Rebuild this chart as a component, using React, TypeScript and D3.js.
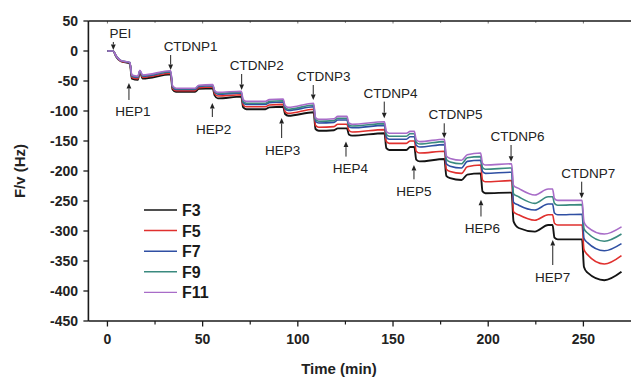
import React from "react";
import * as d3 from "d3";

// ---- data ----
const seriesNames = ["F3", "F5", "F7", "F9", "F11"];
const seriesColors = ["#141414", "#e0302e", "#2f4fa3", "#3a8a7f", "#a86cc8"];

const times = [
  0, 3, 4.5, 7, 11.8, 12.8, 16, 17, 18.5, 33.2,
  34.2, 36, 46, 48, 55.3, 56.3, 58, 70.3, 71.3, 73,
  83, 85, 92.3, 93.3, 95, 108.3, 109.3, 111, 119, 121,
  125.8, 126.8, 128.5, 145.5, 146.5, 148, 157, 159, 161.2, 162.2,
  164, 177, 178, 180, 186, 189, 196, 197, 198.5, 212.3,
  213.3, 216, 224.5, 231.5, 233.8, 234.8, 236.5, 249.3, 250.3, 252,
  261, 270,
];

const f11 = [
  0, 0, -8, -16, -19, -40, -42, -32, -40, -33,
  -58, -62, -62, -57, -56, -66, -69, -67, -81, -84,
  -84, -81, -80, -91, -94, -87, -111, -114, -113, -109,
  -109, -120, -122, -118, -134, -137, -137, -134, -134, -148,
  -151, -147, -175, -179, -182, -173, -170, -187, -190, -188,
  -224, -229, -240, -230, -230, -246, -249, -249, -285, -293,
  -305, -293,
];
const f9 = [
  0, 0, -8, -16, -19, -41, -43, -33, -41, -34,
  -59, -63, -63, -58, -57, -67, -70.5, -68.5, -84, -87,
  -87, -84, -83, -94, -97, -90, -114, -117, -116, -112,
  -112, -123, -125, -121, -139, -142, -142, -138, -138, -152,
  -155, -151, -181, -185, -188, -178, -176, -194, -197, -195,
  -238, -243, -254, -243, -243, -254, -257, -256, -296, -303,
  -317, -305,
];
const f7 = [
  0, 0, -8, -16, -20, -42, -44, -33, -42, -35,
  -60, -64, -64, -59, -58, -68, -72, -70, -86, -89,
  -89, -86, -85, -96, -99, -93, -117, -120, -119, -115,
  -115, -126, -128, -124, -144, -147, -147, -143, -143, -157,
  -160, -156, -188, -192, -195, -184, -182, -201, -204, -202,
  -252, -257, -265, -255, -255, -270, -273, -272, -312, -319,
  -333, -321,
];
const f5 = [
  0, 0, -8, -17, -20, -44, -46, -34, -44, -37,
  -62, -66, -66, -61, -60, -71, -75, -73, -90, -93,
  -93, -90, -89, -101, -104, -97, -124, -127, -126, -122,
  -122, -132, -135, -131, -151, -154, -154, -150, -150, -167,
  -170, -167, -197, -201, -204, -193, -190, -215, -218, -216,
  -268, -273, -282, -273, -273, -287, -290, -290, -331, -339,
  -355, -341,
];
const f3 = [
  0, 0, -9, -17, -21, -46, -48, -35, -46, -39,
  -64, -68, -68, -63, -62, -74, -79, -76, -94, -97,
  -97, -94, -93, -105, -108, -102, -130, -133, -132, -129,
  -129, -139, -141, -137, -162, -165, -165, -160, -160, -181,
  -184, -180, -208, -212, -215, -206, -204, -234, -237, -236,
  -284, -295, -301, -290, -290, -311, -314, -314, -360, -369,
  -382, -368,
];
const seriesValues = [f3, f5, f7, f9, f11];

const eventNames = ["PEI", "HEP1", "CTDNP1", "HEP2", "CTDNP2", "HEP3", "CTDNP3", "HEP4", "CTDNP4", "HEP5", "CTDNP5", "HEP6", "CTDNP6", "HEP7", "CTDNP7"];
const eventTimes = [3.1, 11.3, 33.2, 55.1, 70.5, 91.5, 108.1, 125.3, 145.4, 161, 176.9, 196.2, 212, 233.9, 249.1];
const eventTipValues = [1.7, -53.3, -31.7, -86.7, -65, -111.7, -81.7, -151, -112, -190, -145.5, -248, -184.5, -315, -245.5];

const xTicks = [0, 50, 100, 150, 200, 250];
const xMinorTicks = [25, 75, 125, 175, 225];
const yTicks = [50, 0, -50, -100, -150, -200, -250, -300, -350, -400, -450];

// ---- layout (annotation styling) ----
const eventDirDown = [true, false, true, false, true, false, true, false, true, false, true, false, true, false, true];
const arrowLen = [8, 17, 15, 14, 16, 20, 15, 15, 16.6, 14.3, 15, 16.7, 16.7, 25, 16.6];
const labelDx = [7, 4, 20, 1.2, 15, 1.1, 10.4, 4.3, 6.2, 0, 11.2, 1.5, 6.5, -0.2, 6.6];

const W = 631;
const H = 379;
const FONT = "'Liberation Sans', Arial, Helvetica, sans-serif";

export default function App() {
  const x = d3.scaleLinear().domain([-10, 275]).range([88.4, 631]);
  const y = d3.scaleLinear().domain([-450, 50]).range([321, 21]);

  const line = d3
    .line<[number, number]>()
    .x((d) => x(d[0]))
    .y((d) => y(d[1]))
    .curve(d3.curveMonotoneX);

  const axisColor = "#1a1a1a";
  const textColor = "#222";

  return (
    <svg
      width={W}
      height={H}
      style={{ position: "absolute", left: 0, top: 0, background: "#fff" }}
      fontFamily={FONT}
    >
      {/* series */}
      {seriesValues.map((vals, si) => (
        <path
          key={seriesNames[si]}
          d={line(times.map((t, i) => [t, vals[i]] as [number, number])) || ""}
          fill="none"
          stroke={seriesColors[si]}
          strokeWidth={si === 0 ? 1.9 : 1.6}
          strokeLinejoin="round"
        />
      ))}

      {/* axes */}
      <line x1={x.range()[0]} x2={W} y1={y(-450)} y2={y(-450)} stroke={axisColor} strokeWidth={1.6} />
      <line x1={x.range()[0]} x2={W} y1={y(50)} y2={y(50)} stroke={axisColor} strokeWidth={1.6} />
      <line x1={x.range()[0]} x2={x.range()[0]} y1={y(50)} y2={y(-450)} stroke={axisColor} strokeWidth={1.6} />

      {xTicks.map((t) => (
        <g key={"xt" + t}>
          <line x1={x(t)} x2={x(t)} y1={y(-450)} y2={y(-450) + 5.5} stroke={axisColor} strokeWidth={1.3} />
          <line x1={x(t)} x2={x(t)} y1={y(50)} y2={y(50) + 2.5} stroke={axisColor} strokeWidth={1} opacity={0.6} />
          <text x={x(t)} y={344} textAnchor="middle" fontSize={14} fontWeight="bold" fill={textColor}>
            {t}
          </text>
        </g>
      ))}
      {xMinorTicks.map((t) => (
        <g key={"xm" + t}>
          <line x1={x(t)} x2={x(t)} y1={y(-450)} y2={y(-450) + 3.5} stroke={axisColor} strokeWidth={1.2} />
          <line x1={x(t)} x2={x(t)} y1={y(50)} y2={y(50) + 2} stroke={axisColor} strokeWidth={1} opacity={0.5} />
        </g>
      ))}
      {yTicks.map((v) => (
        <g key={"yt" + v}>
          <line x1={x.range()[0] - 5} x2={x.range()[0]} y1={y(v)} y2={y(v)} stroke={axisColor} strokeWidth={1.3} />
          <text x={78} y={y(v) + 5} textAnchor="end" fontSize={14} fontWeight="bold" fill={textColor}>
            {v}
          </text>
        </g>
      ))}

      <text x={339} y={374} textAnchor="middle" fontSize={15} fontWeight="bold" fill={textColor}>
        Time (min)
      </text>
      <text
        transform={`translate(25,171) rotate(-90)`}
        textAnchor="middle"
        fontSize={15}
        fontWeight="bold"
        fill={textColor}
      >
        F/v (Hz)
      </text>

      {/* annotations */}
      {eventNames.map((name, i) => {
        const ax = x(eventTimes[i]);
        const tip = y(eventTipValues[i]);
        const down = eventDirDown[i];
        const tail = down ? tip - arrowLen[i] : tip + arrowLen[i];
        const head = 5.5;
        const hw = 2.4;
        const base = down ? tip - head : tip + head;
        const textY = down ? tail - 4 : tail + 16.5;
        return (
          <g key={name}>
            <line x1={ax} x2={ax} y1={tail} y2={base} stroke="#222" strokeWidth={1} />
            <path d={`M${ax - hw},${base} L${ax + hw},${base} L${ax},${tip} Z`} fill="#222" />
            <text x={ax + labelDx[i]} y={textY} textAnchor="middle" fontSize={13.5} fill="#222">
              {name}
            </text>
          </g>
        );
      })}

      {/* legend */}
      {seriesNames.map((n, i) => {
        const ly = 210 + i * 20.6;
        return (
          <g key={"lg" + n}>
            <line x1={144} x2={177} y1={ly} y2={ly} stroke={seriesColors[i]} strokeWidth={i === 4 ? 1.1 : 1.5} />
            <text x={182} y={ly + 6} fontSize={16} fontWeight="bold" fill="#1a1a1a">
              {n}
            </text>
          </g>
        );
      })}
    </svg>
  );
}
